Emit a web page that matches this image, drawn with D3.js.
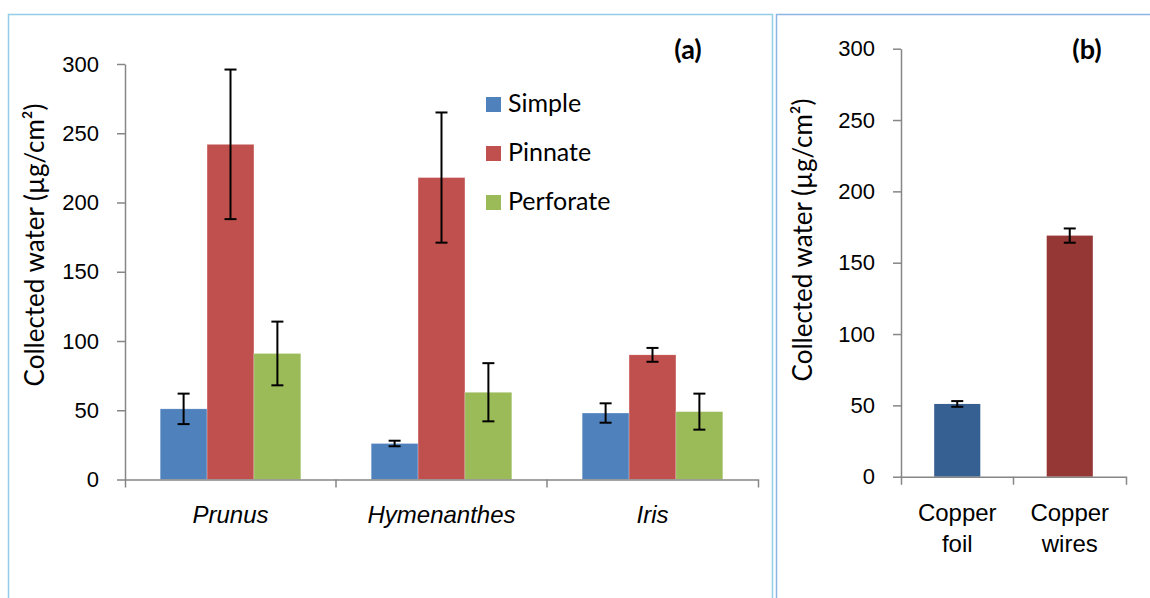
<!DOCTYPE html>
<html>
<head>
<meta charset="utf-8">
<script src="https://cdn.jsdelivr.net/npm/d3@7"></script>
<style>
  body { margin: 0; background: #fff; }
  svg { font-family: Lato, "Noto Sans", sans-serif; }
</style>
</head>
<body>
<div id="chart"></div>
<script>
// panel (a)
var plants = ["Prunus", "Hymenanthes", "Iris"];
var shapes = ["Simple", "Pinnate", "Perforate"];
var simpleVals = [51, 26, 48];
var simpleErr = [11, 2, 7];
var pinnateVals = [242, 218, 90];
var pinnateErr = [54, 47, 5];
var perforateVals = [91, 63, 49];
var perforateErr = [23, 21, 13];
var shapeColors = ["#4f81bd", "#c0504d", "#9bbb59"];

// panel (b)
var materials = ["Copper foil", "Copper wires"];
var materialVals = [51, 169];
var materialErr = [2, 5];
var materialColors = ["#376092", "#953735"];

var yTicks = [0, 50, 100, 150, 200, 250, 300];

var width = 1150, height = 598;
var svg = d3.select("#chart").append("svg")
    .attr("width", width)
    .attr("height", height);

// panel frames
svg.append("rect").attr("x", 8.5).attr("y", 14.5).attr("width", 764).attr("height", 600)
    .attr("fill", "none").attr("stroke", "#93cde6").attr("stroke-width", 1.5);
svg.append("rect").attr("x", 776.5).attr("y", 14.5).attr("width", 400).attr("height", 600)
    .attr("fill", "none").attr("stroke", "#8db4e2").attr("stroke-width", 1.5);

function yAxis(g, y) {
    g.call(d3.axisLeft(y).tickValues(yTicks).tickSize(8).tickSizeOuter(0).tickPadding(18));
    g.select(".domain").attr("stroke", "#868686").attr("stroke-width", 1.5);
    g.selectAll(".tick line").attr("stroke", "#868686").attr("stroke-width", 1.5);
    g.selectAll(".tick text").attr("fill", "#000").style("font-size", "22px");
}

function errorBars(g, data, cx, y) {
    var eb = g.selectAll(".err").data(data).enter().append("g")
        .attr("stroke", "#000").attr("stroke-width", 2);
    eb.append("line")
        .attr("x1", cx).attr("x2", cx)
        .attr("y1", d => y(d.v + d.e)).attr("y2", d => y(d.v - d.e));
    eb.append("line")
        .attr("x1", d => cx(d) - 6).attr("x2", d => cx(d) + 6)
        .attr("y1", d => y(d.v + d.e)).attr("y2", d => y(d.v + d.e));
    eb.append("line")
        .attr("x1", d => cx(d) - 6).attr("x2", d => cx(d) + 6)
        .attr("y1", d => y(d.v - d.e)).attr("y2", d => y(d.v - d.e));
}

// ---------- (a) ----------
var xA = d3.scaleBand().domain(plants).range([125, 758]);
var xA1 = d3.scaleBand().domain(shapes).range([0, xA.bandwidth()]).paddingOuter(0.75);
var yA = d3.scaleLinear().domain([0, 300]).range([479.5, 64]);

var seriesVals = [simpleVals, pinnateVals, perforateVals];
var seriesErr = [simpleErr, pinnateErr, perforateErr];
var dataA = [];
plants.forEach((p, i) => {
    shapes.forEach((s, j) => {
        dataA.push({ cat: p, s: s, v: seriesVals[j][i], e: seriesErr[j][i], c: shapeColors[j] });
    });
});

var gA = svg.append("g");
gA.selectAll("rect.bar").data(dataA).enter().append("rect")
    .attr("class", "bar")
    .attr("x", d => xA(d.cat) + xA1(d.s))
    .attr("y", d => yA(d.v))
    .attr("width", xA1.bandwidth())
    .attr("height", d => yA(0) - yA(d.v))
    .attr("fill", d => d.c)
    .attr("stroke", "#fff").attr("stroke-opacity", 0.5).attr("stroke-width", 0.5);
errorBars(gA, dataA, d => xA(d.cat) + xA1(d.s) + xA1.bandwidth() / 2, yA);

var xAxisA = gA.append("g").attr("transform", "translate(0," + yA(0) + ")")
    .call(d3.axisBottom(xA).tickSize(0).tickSizeOuter(8).tickPadding(0));
xAxisA.select(".domain").attr("stroke", "#868686").attr("stroke-width", 1.5);
xAxisA.selectAll(".tick text").attr("y", 43).attr("dy", 0)
    .attr("fill", "#000").style("font-size", "24px").style("font-style", "italic");
gA.append("g").selectAll("line").data(plants.slice(1)).enter().append("line")
    .attr("x1", d => xA(d)).attr("x2", d => xA(d))
    .attr("y1", yA(0)).attr("y2", yA(0) + 8)
    .attr("stroke", "#868686").attr("stroke-width", 1.5);
gA.append("g").attr("transform", "translate(125,0)").call(g => yAxis(g, yA));

gA.append("text")
    .attr("transform", "translate(44," + 245 + ") rotate(-90)")
    .attr("text-anchor", "middle")
    .style("font-size", "26px")
    .text("Collected water (µg/cm²)");

gA.append("text").attr("x", 688).attr("y", 59).attr("text-anchor", "middle")
    .style("font-size", "27px").style("font-weight", "bold").text("(a)");

// legend
var leg = gA.append("g").selectAll("g").data(shapes).enter().append("g")
    .attr("transform", (d, i) => "translate(486," + (97 + i * 49) + ")");
leg.append("rect").attr("width", 15).attr("height", 15).attr("fill", (d, i) => shapeColors[i]);
leg.append("text").attr("x", 22).attr("y", 15).style("font-size", "25px").text(d => d);

// ---------- (b) ----------
var xB = d3.scaleBand().domain(materials).range([901, 1126]).paddingInner(0.59).paddingOuter(0.295);
var xBb = d3.scaleBand().domain(materials).range([901, 1126]);
var yB = d3.scaleLinear().domain([0, 300]).range([476.7, 48.7]);
var dataB = materials.map((m, i) => ({ cat: m, v: materialVals[i], e: materialErr[i], c: materialColors[i] }));

var gB = svg.append("g");
gB.selectAll("rect.bar").data(dataB).enter().append("rect")
    .attr("class", "bar")
    .attr("x", d => xB(d.cat))
    .attr("y", d => yB(d.v))
    .attr("width", xB.bandwidth())
    .attr("height", d => yB(0) - yB(d.v))
    .attr("fill", d => d.c);
errorBars(gB, dataB, d => xB(d.cat) + xB.bandwidth() / 2, yB);

var xAxisB = gB.append("g").attr("transform", "translate(0," + yB(0) + ")")
    .call(d3.axisBottom(xBb).tickSize(0).tickSizeOuter(8).tickPadding(0));
xAxisB.select(".domain").attr("stroke", "#868686").attr("stroke-width", 1.5);
xAxisB.selectAll(".tick text").remove();
xAxisB.selectAll(".tick").each(function(d) {
    var t = d3.select(this).append("text").attr("fill", "#000").style("font-size", "24px")
        .attr("text-anchor", "middle");
    d.split(" ").forEach((w, k) => {
        t.append("tspan").attr("x", 0).attr("y", 44 + k * 31.5).text(w);
    });
});
gB.append("line")
    .attr("x1", xBb(materials[1])).attr("x2", xBb(materials[1]))
    .attr("y1", yB(0)).attr("y2", yB(0) + 8)
    .attr("stroke", "#868686").attr("stroke-width", 1.5);
gB.append("g").attr("transform", "translate(901,0)").call(g => yAxis(g, yB));

gB.append("text")
    .attr("transform", "translate(812," + 240 + ") rotate(-90)")
    .attr("text-anchor", "middle")
    .style("font-size", "26px")
    .text("Collected water (µg/cm²)");

gB.append("text").attr("x", 1087).attr("y", 59).attr("text-anchor", "middle")
    .style("font-size", "27px").style("font-weight", "bold").text("(b)");
</script>
</body>
</html>
